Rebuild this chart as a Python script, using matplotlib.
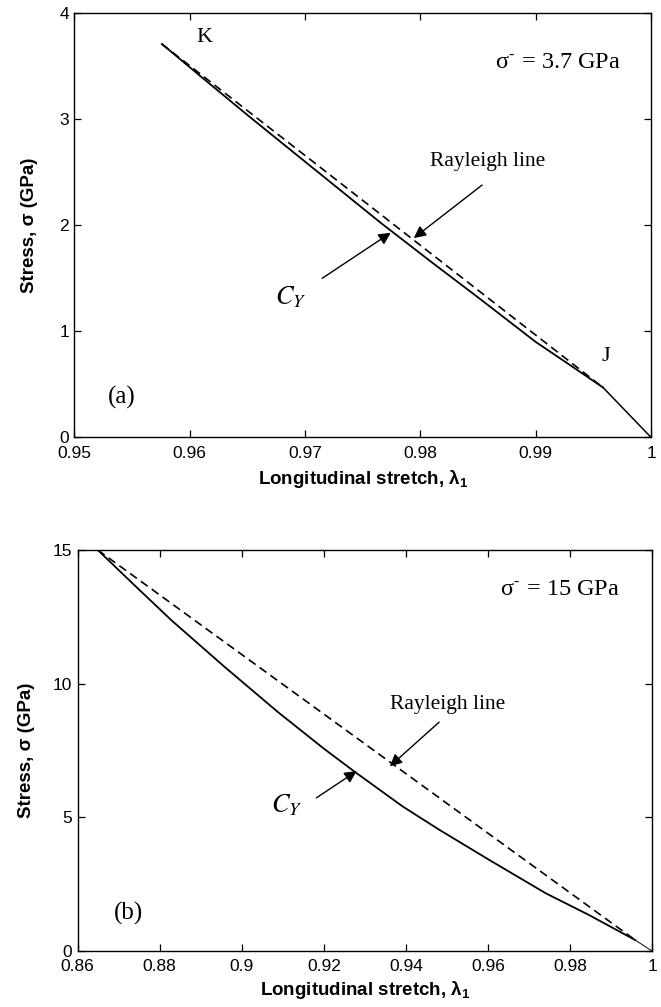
import matplotlib
matplotlib.use("Agg")
import matplotlib.pyplot as plt

plt.rcParams["font.family"] = ["Liberation Sans", "DejaVu Sans"]
plt.rcParams["mathtext.fontset"] = "custom"
plt.rcParams["mathtext.rm"] = "Liberation Sans"
plt.rcParams["mathtext.it"] = "Liberation Sans:italic"
plt.rcParams["mathtext.bf"] = "Liberation Sans:bold"

# ---- panel (a): sigma- = 3.7 GPa ----
a_cy_stretch = [0.95758, 0.9610, 0.9650, 0.9700, 0.9766, 0.9810, 0.9853, 0.9900, 0.9930, 0.99584]
a_cy_stress = [3.71, 3.40, 3.04, 2.60, 2.02, 1.65, 1.295, 0.90, 0.68, 0.47]
a_rayleigh_stretch = [0.95758, 0.99584]
a_rayleigh_stress = [3.71, 0.47]
a_elastic_stretch = [0.99584, 1.0]
a_elastic_stress = [0.47, 0.0]
a_xticks = [0.95, 0.96, 0.97, 0.98, 0.99, 1.0]
a_xticklabels = ["0.95", "0.96", "0.97", "0.98", "0.99", "1"]
a_yticks = [0, 1, 2, 3, 4]

# ---- panel (b): sigma- = 15 GPa ----
b_cy_stretch = [0.8649, 0.8738, 0.8828, 0.8958, 0.9088, 0.9201, 0.9274, 0.9392,
                0.9481, 0.9603, 0.9741, 0.9846, 0.9959]
b_cy_stress = [15.0, 13.69, 12.38, 10.63, 8.94, 7.56, 6.72, 5.41,
               4.54, 3.41, 2.16, 1.35, 0.41]
b_rayleigh_stretch = [0.8649, 0.9959]
b_rayleigh_stress = [15.0, 0.41]
b_elastic_stretch = [0.9959, 1.0]
b_elastic_stress = [0.41, 0.0]
b_xticks = [0.86, 0.88, 0.90, 0.92, 0.94, 0.96, 0.98, 1.0]
b_xticklabels = ["0.86", "0.88", "0.9", "0.92", "0.94", "0.96", "0.98", "1"]
b_yticks = [0, 5, 10, 15]

SERIF = ["Liberation Serif", "DejaVu Serif"]
XLABEL = "Longitudinal stretch, λ$_{\\mathbf{1}}$"
YLABEL = "Stress, σ (GPa)"

fig = plt.figure(figsize=(6.61, 10.07), dpi=100)
ax_a = fig.add_axes([0.1127, 0.5657, 0.8722, 0.4211])
ax_b = fig.add_axes([0.1175, 0.0556, 0.8689, 0.3982])


def style_axes(ax, xticks, xticklabels, yticks, xlim, ylim, xlab_y, ylab_x):
    ax.set_xlim(*xlim)
    ax.set_ylim(*ylim)
    ax.set_xticks(xticks)
    ax.set_xticklabels(xticklabels)
    ax.set_yticks(yticks)
    ax.tick_params(direction="in", length=5, width=0.9, top=True, right=True,
                   labelsize=12.5)
    ax.tick_params(axis="x", pad=6)
    ax.tick_params(axis="y", pad=4)
    for s in ax.spines.values():
        s.set_linewidth(1.0)
    ax.set_xlabel(XLABEL, fontsize=13.5, fontweight="bold")
    ax.set_ylabel(YLABEL, fontsize=13.5, fontweight="bold")
    ax.xaxis.set_label_coords(0.5, xlab_y)
    ax.yaxis.set_label_coords(ylab_x, 0.5)


def arrow(ax, tail, head):
    ax.annotate("", xy=head, xytext=tail,
                arrowprops=dict(arrowstyle="-|>", color="black", lw=1.0,
                                mutation_scale=18, shrinkA=0, shrinkB=0))


def serif_text(ax, x, y, s, size=15.5):
    ax.text(x, y, s, ha="center", va="center", fontsize=size, family=SERIF,
            math_fontfamily="stix")


# panel (a)
ax_a.plot(a_cy_stretch, a_cy_stress, color="black", lw=1.3)
ax_a.plot(a_rayleigh_stretch, a_rayleigh_stress, color="black", lw=1.2,
          dashes=(5, 3))
ax_a.plot(a_elastic_stretch, a_elastic_stress, color="black", lw=1.1)
style_axes(ax_a, a_xticks, a_xticklabels, a_yticks, (0.95, 1.0), (0, 4),
           -0.072, -0.064)
serif_text(ax_a, 0.96131, 3.767, "K", 16)
serif_text(ax_a, 0.9919, 3.54, r"σ$^{\text{-}}$ = 3.7 GPa", 17.5)
serif_text(ax_a, 0.98583, 2.60, "Rayleigh line")
serif_text(ax_a, 0.96876, 1.32, r"$C_Y$", 19)
serif_text(ax_a, 0.99606, 0.76, "J", 16)
serif_text(ax_a, 0.95407, 0.38, "(a)", 18)
arrow(ax_a, (0.98535, 2.38), (0.97943, 1.88))
arrow(ax_a, (0.97148, 1.50), (0.97743, 1.93))

# panel (b)
ax_b.plot(b_cy_stretch, b_cy_stress, color="black", lw=1.3)
ax_b.plot(b_rayleigh_stretch, b_rayleigh_stress, color="black", lw=1.2,
          dashes=(5, 3))
ax_b.plot(b_elastic_stretch, b_elastic_stress, color="black", lw=0.7)
style_axes(ax_b, b_xticks, b_xticklabels, b_yticks, (0.86, 1.0), (0, 15),
           -0.070, -0.075)
serif_text(ax_b, 0.97758, 13.54, r"σ$^{\text{-}}$ = 15 GPa", 17.5)
serif_text(ax_b, 0.95027, 9.22, "Rayleigh line")
serif_text(ax_b, 0.91102, 5.47, r"$C_Y$", 19)
serif_text(ax_b, 0.87243, 1.42, "(b)", 18)
arrow(ax_b, (0.9481, 8.56), (0.9361, 6.91))
arrow(ax_b, (0.9182, 5.73), (0.9280, 6.73))

fig.savefig("out.png", dpi=100)
